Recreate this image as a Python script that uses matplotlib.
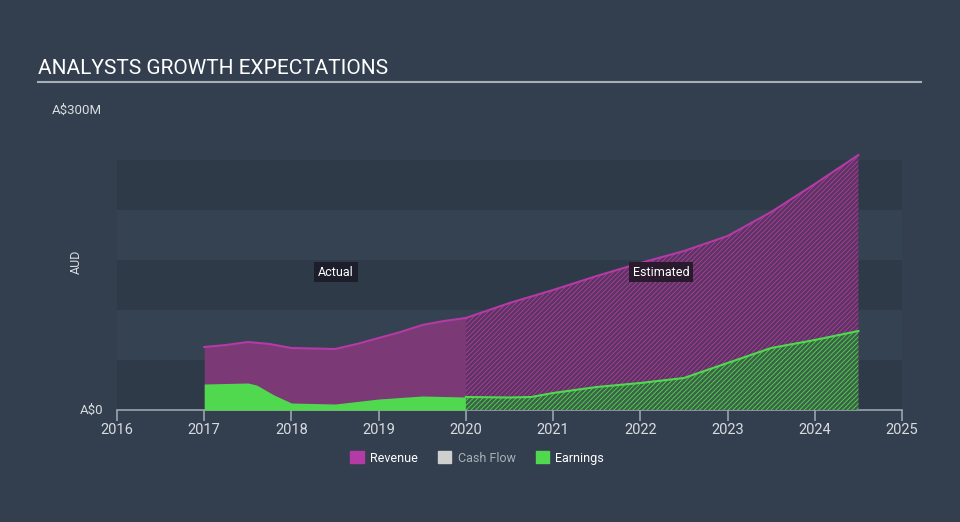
import numpy as np
import matplotlib.pyplot as plt
from matplotlib.patches import Patch
import matplotlib as mpl

plt.rcParams['font.family'] = ['Roboto', 'DejaVu Sans']
mpl.rcParams['hatch.linewidth'] = 0.6

# Revenue (A$M), actual and estimated
rev_act_x = [2017.0, 2017.25, 2017.5, 2017.75, 2018.0, 2018.25, 2018.5, 2018.75, 2019.0, 2019.25, 2019.5, 2019.75, 2020.0]
rev_act_y = [63, 65, 68, 66, 62, 61.5, 61, 66, 72, 78, 85, 89, 92]
rev_est_x = [2020.0, 2020.5, 2021.0, 2021.5, 2022.0, 2022.5, 2023.0, 2023.5, 2024.0, 2024.5]
rev_est_y = [92, 107, 120, 134, 147, 159, 174, 198, 226, 255]

# Earnings (A$M), actual and estimated
earn_act_x = [2017.0, 2017.25, 2017.5, 2017.6, 2017.8, 2018.0, 2018.25, 2018.5, 2018.75, 2019.0, 2019.25, 2019.5, 2019.75, 2020.0]
earn_act_y = [26, 26.5, 27, 25, 15, 7, 6.5, 6, 8.5, 11, 12.5, 14, 13.5, 13]
earn_est_x = [2020.0, 2020.5, 2020.75, 2021.0, 2021.5, 2022.0, 2022.5, 2023.0, 2023.5, 2024.0, 2024.5]
earn_est_y = [13, 12.5, 13, 17, 23, 27, 32, 47, 62, 70, 79]

years = list(range(2016, 2026))
bg = '#333f4f'
band_dark = '#2e3a48'
band_light = '#354251'
rev_line = '#b43aa5'
rev_fill = '#7b3976'
earn_col = '#50d94f'
text_col = '#d8dce0'

fig = plt.figure(figsize=(9.6, 5.22), dpi=100)
fig.patch.set_facecolor(bg)
ax = fig.add_axes([117 / 960, 112 / 522, 785 / 960, 300 / 522])
ax.set_facecolor('none')
ax.set_xlim(2016, 2025)
ax.set_ylim(0, 300)

# alternating bands
for i, lo in enumerate(range(0, 250, 50)):
    ax.axhspan(lo, lo + 50, color=band_dark if i % 2 == 0 else band_light, zorder=0, lw=0)

# actual: solid fills
ax.fill_between(rev_act_x, 0, rev_act_y, color=rev_fill, lw=0, zorder=2)
ax.plot(rev_act_x, rev_act_y, color=rev_line, lw=1.5, zorder=4)
ax.fill_between(earn_act_x, 0, earn_act_y, color=earn_col, lw=0, zorder=3)

# estimated: hatched fills
ax.fill_between(rev_est_x, 0, rev_est_y, facecolor='#5a3560', edgecolor=rev_line,
                hatch='///////', lw=0, zorder=2)
ax.plot(rev_est_x, rev_est_y, color=rev_line, lw=1.5, zorder=4)
ax.fill_between(earn_est_x, 0, earn_est_y, facecolor='#3c6248', edgecolor=earn_col,
                hatch='///////', lw=0, zorder=3)
ax.plot(earn_est_x, earn_est_y, color=earn_col, lw=1.5, zorder=4)

for s in ['top', 'right', 'left']:
    ax.spines[s].set_visible(False)
ax.spines['bottom'].set_color('#9aa4ae')
ax.spines['bottom'].set_linewidth(1.2)
ax.set_xticks(years)
ax.set_xticklabels([str(y) for y in years])
ax.tick_params(axis='x', colors='#9aa4ae', length=8, width=1.2, labelcolor=text_col, labelsize=10.5, pad=1)
ax.set_yticks([])

ax.text(2018.51, 138, 'Actual', ha='center', va='center', color='white', fontsize=9,
        bbox=dict(boxstyle='square,pad=0.3', fc='#1c1f2b', ec='none'), zorder=6)
ax.text(2022.24, 138, 'Estimated', ha='center', va='center', color='white', fontsize=9,
        bbox=dict(boxstyle='square,pad=0.3', fc='#2a1a2e', ec='none'), zorder=6)

# title and labels
fig.text(38 / 960, 1 - 68 / 522, 'ANALYSTS GROWTH EXPECTATIONS', color='white', fontsize=15, va='center', ha='left')
fig.add_artist(plt.Line2D([38 / 960, 921 / 960], [1 - 82 / 522, 1 - 82 / 522], color='#a8aeb5', lw=1.5))
fig.text(52 / 960, 1 - 110 / 522, 'A$300M', color=text_col, fontsize=9.5, va='center', ha='left')
fig.text(103 / 960, 1 - 410 / 522, 'A$0', color=text_col, fontsize=9.5, va='center', ha='right')
fig.text(76 / 960, 1 - 262 / 522, 'AUD', color=text_col, fontsize=9, va='center', ha='center', rotation=90)

handles = [Patch(color=rev_line, label='Revenue'), Patch(color='#cfcfcf', label='Cash Flow'),
           Patch(color=earn_col, label='Earnings')]
leg = fig.legend(handles=handles, loc='center', bbox_to_anchor=(477 / 960, 1 - 458 / 522), ncol=3,
                 frameon=False, fontsize=9, handlelength=1.1, handleheight=1.1, columnspacing=1.6,
                 handletextpad=0.5)
for t, c in zip(leg.get_texts(), ['white', '#aab0b8', 'white']):
    t.set_color(c)

fig.savefig('out.png', dpi=100, facecolor=bg)
